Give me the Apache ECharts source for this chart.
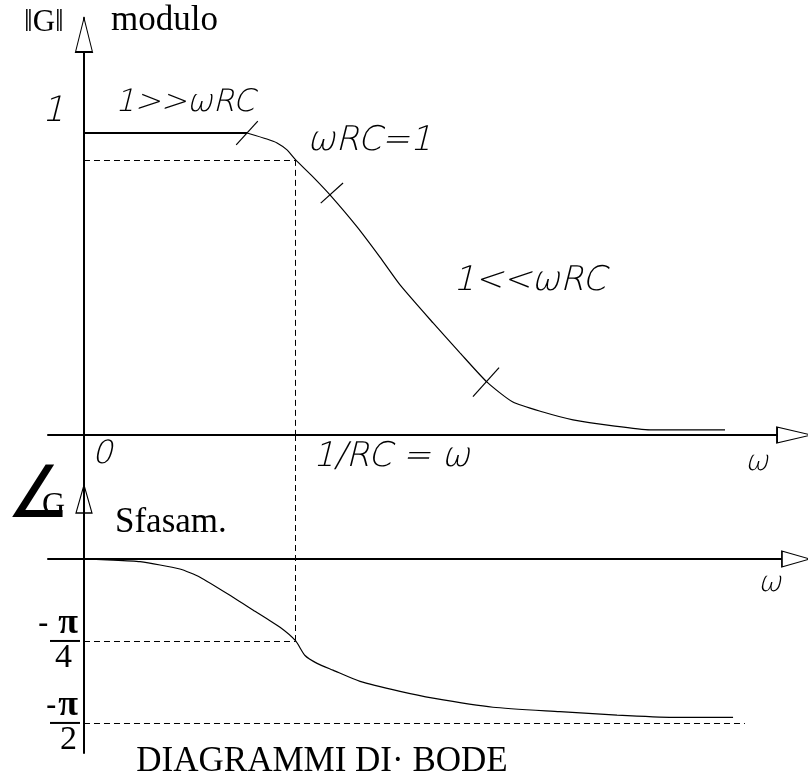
<!DOCTYPE html>
<html>
<head>
<meta charset="utf-8">
<script src="https://cdn.jsdelivr.net/npm/echarts@6/dist/echarts.min.js"></script>
<style>
  html, body { margin: 0; padding: 0; background: #fff; }
  #chart { width: 808px; height: 780px; }
</style>
</head>
<body>
<div id="chart"></div>
<script>
// Bode diagrams of a first-order RC low-pass: G = 1 / (1 + jωRC)
// ω is expressed in units of 1/RC.

// modulus |G| against ω
const omegaMag = [0, 0.770, 0.864, 0.912, 0.959, 1.0, 1.077, 1.162, 1.290, 1.398, 1.493, 1.649, 1.776, 1.904, 2.026, 2.168, 2.310, 2.499, 2.674, 3.028];
const modulus  = [1.0, 1.0, 0.980, 0.967, 0.944, 0.911, 0.858, 0.795, 0.689, 0.589, 0.497, 0.371, 0.272, 0.175, 0.109, 0.076, 0.050, 0.030, 0.017, 0.017];

// phase shift (degrees) against ω
const omegaPhase = [0, 0.109, 0.265, 0.453, 0.548, 0.704, 0.798, 0.926, 1.0, 1.044, 1.101, 1.176, 1.304, 1.493, 1.649, 1.932, 2.248, 2.518, 2.782, 3.066];
const phaseDeg   = [0, -0.5, -1.5, -5.5, -10, -21, -28, -37.5, -45, -53, -57.3, -61, -67.2, -72.7, -76.4, -81.4, -83.8, -85.7, -86.9, -86.9];

// hatch marks along the modulus curve
const hatchOmega   = [0.770, 1.171, 1.899];
const hatchModulus = [1.0, 0.801, 0.175];

// tick values and labels
const cutoff = 1;            // ω = 1/RC
const modulusAtCutoff = 0.911;
const magTickValues = [1];
const magTickLabels = ['1'];
const freqTickValues = [0, cutoff];
const freqTickLabels = ['0', '1/RC = ω'];
const phaseTickValues = [-45, -90];
const phaseTickLabels = ['π/4', 'π/2'];
const phaseAsymptoteEnd = 3.122;

const X_MIN = -0.17, X_MAX = 3.42;
const MAG_MIN = 0, MAG_MAX = 1.3808;
const PH_MIN = -106.5, PH_MAX = 68.06;

const SERIF = "'Liberation Serif', 'Times New Roman', serif";
const ITAL = "'DejaVu Sans Light', 'DejaVu Sans', sans-serif";
const BLACK = '#000';

const chart = echarts.init(document.getElementById('chart'), null, { renderer: 'canvas' });

const magPairs = omegaMag.map((w, i) => [w, modulus[i]]);
const phasePairs = omegaPhase.map((w, i) => [w, phaseDeg[i]]);
const flatEnd = omegaMag.indexOf(hatchOmega[0]);

const dashed = { color: BLACK, width: 1, type: [6, 4] };
const axisLine = { onZero: true, lineStyle: { color: BLACK, width: 2 } };
const hidden = { show: false };
const italicStyle = { fontFamily: ITAL, fontStyle: 'italic', fontWeight: 200, color: BLACK };

function arrow(coord, w, h, rotate, fill) {
  return {
    coord, symbol: 'triangle', symbolSize: [w, h], symbolRotate: rotate,
    itemStyle: { color: fill, borderColor: BLACK, borderWidth: 1.3 }
  };
}

function italicText(text, x, y, size) {
  return {
    type: 'text', x, y, z: 10,
    style: { text, fill: BLACK, fontFamily: ITAL, fontStyle: 'italic', fontWeight: 200,
             fontSize: size, verticalAlign: 'middle', align: 'left' }
  };
}
function serifText(text, x, y, size, align) {
  return {
    type: 'text', x, y, z: 10,
    style: { text, fill: BLACK, fontFamily: SERIF, fontSize: size,
             verticalAlign: 'middle', align: align || 'left' }
  };
}

const option = {
  animation: false,
  backgroundColor: '#fff',
  grid: [
    { left: 48, width: 760, top: 18, height: 417 },
    { left: 48, width: 760, top: 435, height: 318 }
  ],
  xAxis: [
    {
      gridIndex: 0, type: 'value', min: X_MIN, max: X_MAX,
      axisLine, axisTick: hidden, splitLine: hidden,
      axisLabel: {
        customValues: freqTickValues,
        formatter: v => {
          const i = freqTickValues.indexOf(v);
          return i === 0 ? '{z|' + freqTickLabels[0] + '}' : '{r|' + freqTickLabels[i] + '}';
        },
        align: 'left', verticalAlign: 'top', margin: 4,
        rich: {
          z: Object.assign({ fontSize: 32, lineHeight: 32, padding: [0, 0, 0, 8] }, italicStyle),
          r: Object.assign({ fontSize: 34, lineHeight: 34, padding: [2, 0, 0, 17] }, italicStyle)
        }
      }
    },
    {
      gridIndex: 1, type: 'value', min: X_MIN, max: X_MAX,
      axisLine, axisTick: hidden, splitLine: hidden, axisLabel: hidden
    }
  ],
  yAxis: [
    {
      gridIndex: 0, type: 'value', min: MAG_MIN, max: MAG_MAX,
      axisLine, axisTick: hidden, splitLine: hidden,
      axisLabel: Object.assign({
        customValues: magTickValues,
        formatter: v => magTickLabels[magTickValues.indexOf(v)],
        align: 'right', verticalAlign: 'bottom', margin: -16,
        fontSize: 35, lineHeight: 35, padding: [0, 0, 4, 0]
      }, italicStyle)
    },
    {
      gridIndex: 1, type: 'value', min: PH_MIN, max: PH_MAX,
      axisLine, axisTick: hidden, splitLine: hidden,
      axisLabel: {
        customValues: phaseTickValues,
        formatter: v => {
          const i = phaseTickValues.indexOf(v);
          const [num, den] = phaseTickLabels[i].split('/');
          return i === 0
            ? '{m|-}{n1|' + num + '}\n{b| }\n{d1|' + den + '}'
            : '{m|-}{n2|' + num + '}\n{b| }\n{d2|' + den + '}';
        },
        align: 'right', verticalAlign: 'middle', margin: -32,
        rich: {
          m:  { fontFamily: SERIF, fontWeight: 'bold', fontSize: 30, lineHeight: 30, color: BLACK },
          n1: { fontFamily: SERIF, fontWeight: 'bold', fontSize: 36, lineHeight: 30, padding: [0, 2, 0, 10], color: BLACK },
          n2: { fontFamily: SERIF, fontWeight: 'bold', fontSize: 36, lineHeight: 30, padding: [0, 2, 0, 2], color: BLACK },
          b:  { width: 30, height: 2, lineHeight: 4, fontSize: 2, backgroundColor: BLACK },
          d1: { fontFamily: SERIF, fontSize: 34, lineHeight: 30, padding: [0, 8, 0, 0], color: BLACK },
          d2: { fontFamily: SERIF, fontSize: 34, lineHeight: 30, padding: [0, 3, 0, 0], color: BLACK }
        }
      }
    }
  ],
  series: [
    {
      // low-frequency asymptote, 1 >> ωRC
      type: 'line', xAxisIndex: 0, yAxisIndex: 0,
      data: magPairs.slice(0, flatEnd + 1),
      showSymbol: false, silent: true,
      lineStyle: { color: BLACK, width: 2 }
    },
    {
      type: 'line', xAxisIndex: 0, yAxisIndex: 0,
      data: magPairs.slice(flatEnd),
      showSymbol: false, silent: true, smooth: 0.2,
      lineStyle: { color: BLACK, width: 1.2 },
      markLine: {
        silent: true, symbol: ['none', 'none'], label: hidden, lineStyle: dashed,
        data: [
          [{ coord: [0, modulusAtCutoff] }, { coord: [cutoff, modulusAtCutoff] }],
          [{ coord: [cutoff, modulusAtCutoff] }, { coord: [cutoff, MAG_MIN] }]
        ]
      },
      markPoint: {
        silent: true, label: hidden,
        data: hatchOmega.map((w, i) => ({
          coord: [w, hatchModulus[i]], symbol: 'rect',
          symbolSize: [1.2, [32, 30, 39][i]], symbolRotate: [-42.5, -48, -42][i],
          itemStyle: { color: BLACK }
        })).concat([
          arrow([0, 1.3245], 17, 34, 0, '#fff'),
          arrow([3.354, 0], 16, 34, -90, '#fff')
        ])
      }
    },
    {
      type: 'line', xAxisIndex: 1, yAxisIndex: 1,
      data: phasePairs,
      showSymbol: false, silent: true, smooth: 0.2,
      lineStyle: { color: BLACK, width: 1.2 },
      markLine: {
        silent: true, symbol: ['none', 'none'], label: hidden, lineStyle: dashed,
        data: [
          [{ coord: [cutoff, PH_MAX] }, { coord: [cutoff, phaseTickValues[0]] }],
          [{ coord: [0, phaseTickValues[0]] }, { coord: [cutoff, phaseTickValues[0]] }],
          [{ coord: [0, phaseTickValues[1]] }, { coord: [phaseAsymptoteEnd, phaseTickValues[1]] }]
        ]
      },
      markPoint: {
        silent: true, label: hidden,
        data: [
          arrow([0, 32.93], 16, 28, 0, 'rgba(255,255,255,0)'),
          arrow([3.363, 0], 16, 28, -90, '#fff')
        ]
      }
    }
  ],
  graphic: [
    serifText('‖G‖', 24, 23, 31),
    serifText('modulo', 111, 21, 35),
    italicText('1>>ωRC', 115, 103, 31),
    italicText('ωRC=1', 307, 141, 34),
    italicText('1<<ωRC', 453, 281, 34),
    italicText('ω', 745, 463, 28),
    italicText('ω', 758, 584, 28),
    {
      type: 'text', x: 6, y: 498, z: 10,
      style: { text: '∠', fill: BLACK, fontFamily: "'DejaVu Sans', sans-serif",
               fontSize: 72, verticalAlign: 'middle', align: 'left' }
    },
    serifText('G', 42, 506, 32),
    serifText('Sfasam.', 115, 523, 35),
    serifText('DIAGRAMMI DI· BODE', 322, 762, 35, 'center')
  ]
};

chart.setOption(option);
</script>
</body>
</html>
